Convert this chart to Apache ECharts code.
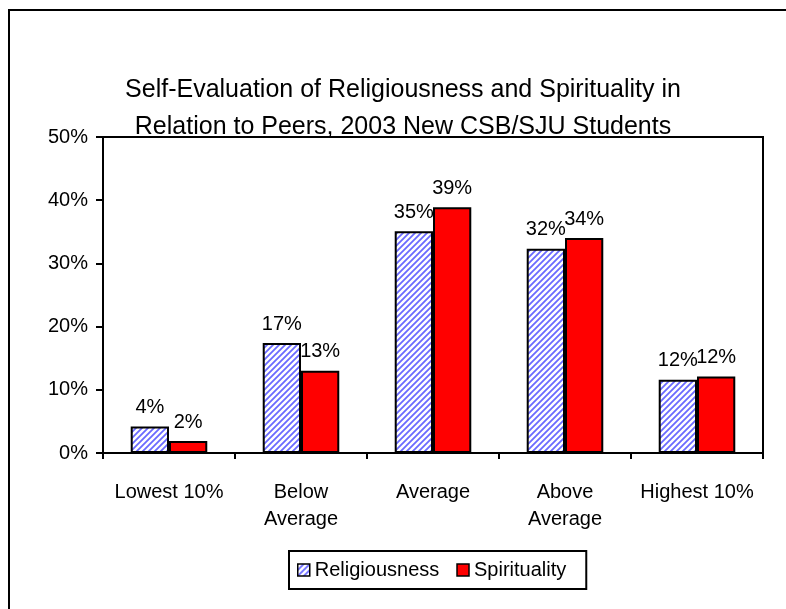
<!DOCTYPE html>
<html>
<head>
<meta charset="utf-8">
<script src="https://cdn.jsdelivr.net/npm/echarts@6/dist/echarts.min.js"></script>
<style>
html,body{margin:0;padding:0;background:#fff;}
#c{width:786px;height:609px;}
</style>
</head>
<body>
<div id="c"></div>
<script>
const categories = ['Lowest 10%', 'Below\nAverage', 'Average', 'Above\nAverage', 'Highest 10%'];
const religiousness = [4.2, 17.4, 35.1, 32.3, 11.6];
const spirituality = [1.9, 13.0, 38.9, 34.0, 12.1];
const yTicks = [0, 10, 20, 30, 40, 50];

const FONT = 'Liberation Sans, Arial, sans-serif';

// hatch pattern
const tile = document.createElement('canvas');
tile.width = 6; tile.height = 6;
const g = tile.getContext('2d');
g.fillStyle = '#ffffff';
g.fillRect(0, 0, 6, 6);
g.strokeStyle = '#6a6aff';
g.lineWidth = 1.8;
g.beginPath();
g.moveTo(-1, 7); g.lineTo(7, -1);
g.moveTo(-4, 4); g.lineTo(4, -4);
g.moveTo(2, 10); g.lineTo(10, 2);
g.stroke();
const hatch = { image: tile, repeat: 'repeat' };

const chart = echarts.init(document.getElementById('c'), null, { renderer: 'canvas' });
const labelFmt = p => Math.round(p.value) + '%';
chart.setOption({
  animation: false,
  backgroundColor: '#ffffff',
  textStyle: { fontFamily: FONT },
  graphic: [
    { type: 'rect', shape: { x: 9, y: 10, width: 820, height: 700 }, style: { fill: 'none', stroke: '#000', lineWidth: 2 }, z: 100 }
  ],
  title: {
    text: 'Self-Evaluation of Religiousness and Spirituality in\nRelation to Peers, 2003 New CSB/SJU Students',
    left: 398, top: 67, textAlign: 'center',
    textStyle: { fontFamily: FONT, fontSize: 25, fontWeight: 'normal', color: '#000', lineHeight: 37 }
  },
  legend: {
    left: 289, top: 551,
    padding: [9, 20, 9, 8],
    itemWidth: 12, itemHeight: 12, itemGap: 17,
    icon: 'rect',
    borderColor: '#000', borderWidth: 2,
    textStyle: { fontFamily: FONT, fontSize: 20, color: '#000' },
    data: [
      { name: 'Religiousness', itemStyle: { color: hatch, borderColor: '#000', borderWidth: 1.5 } },
      { name: 'Spirituality', itemStyle: { color: '#ff0000', borderColor: '#000', borderWidth: 1.5 } }
    ]
  },
  grid: {
    left: 103, top: 137, right: 23, bottom: 156,
    show: true, borderColor: '#000', borderWidth: 2, backgroundColor: 'transparent'
  },
  xAxis: {
    type: 'category',
    data: categories,
    axisLine: { lineStyle: { color: '#000', width: 2 } },
    axisTick: { show: true, length: 6, lineStyle: { color: '#000', width: 2 } },
    axisLabel: { interval: 0, fontFamily: FONT, fontSize: 20, color: '#000', lineHeight: 27, margin: 26 }
  },
  yAxis: {
    type: 'value', min: 0, max: 50, interval: 10,
    axisLine: { show: true, lineStyle: { color: '#000', width: 2 } },
    axisTick: { show: true, length: 7, lineStyle: { color: '#000', width: 2 } },
    splitLine: { show: false },
    axisLabel: { fontFamily: FONT, fontSize: 20, color: '#000', margin: 15, formatter: v => v + '%' }
  },
  series: [
    {
      name: 'Religiousness', type: 'bar', data: religiousness,
      barGap: '0%', barCategoryGap: '42%',
      itemStyle: { color: hatch, borderColor: '#000', borderWidth: 2 },
      label: { show: true, position: 'top', distance: 9, formatter: labelFmt, fontFamily: FONT, fontSize: 20, color: '#000' }
    },
    {
      name: 'Spirituality', type: 'bar', data: spirituality,
      barGap: '0%', barCategoryGap: '42%',
      itemStyle: { color: '#ff0000', borderColor: '#000', borderWidth: 2 },
      label: { show: true, position: 'top', distance: 9, formatter: labelFmt, fontFamily: FONT, fontSize: 20, color: '#000' }
    }
  ]
});
</script>
</body>
</html>
